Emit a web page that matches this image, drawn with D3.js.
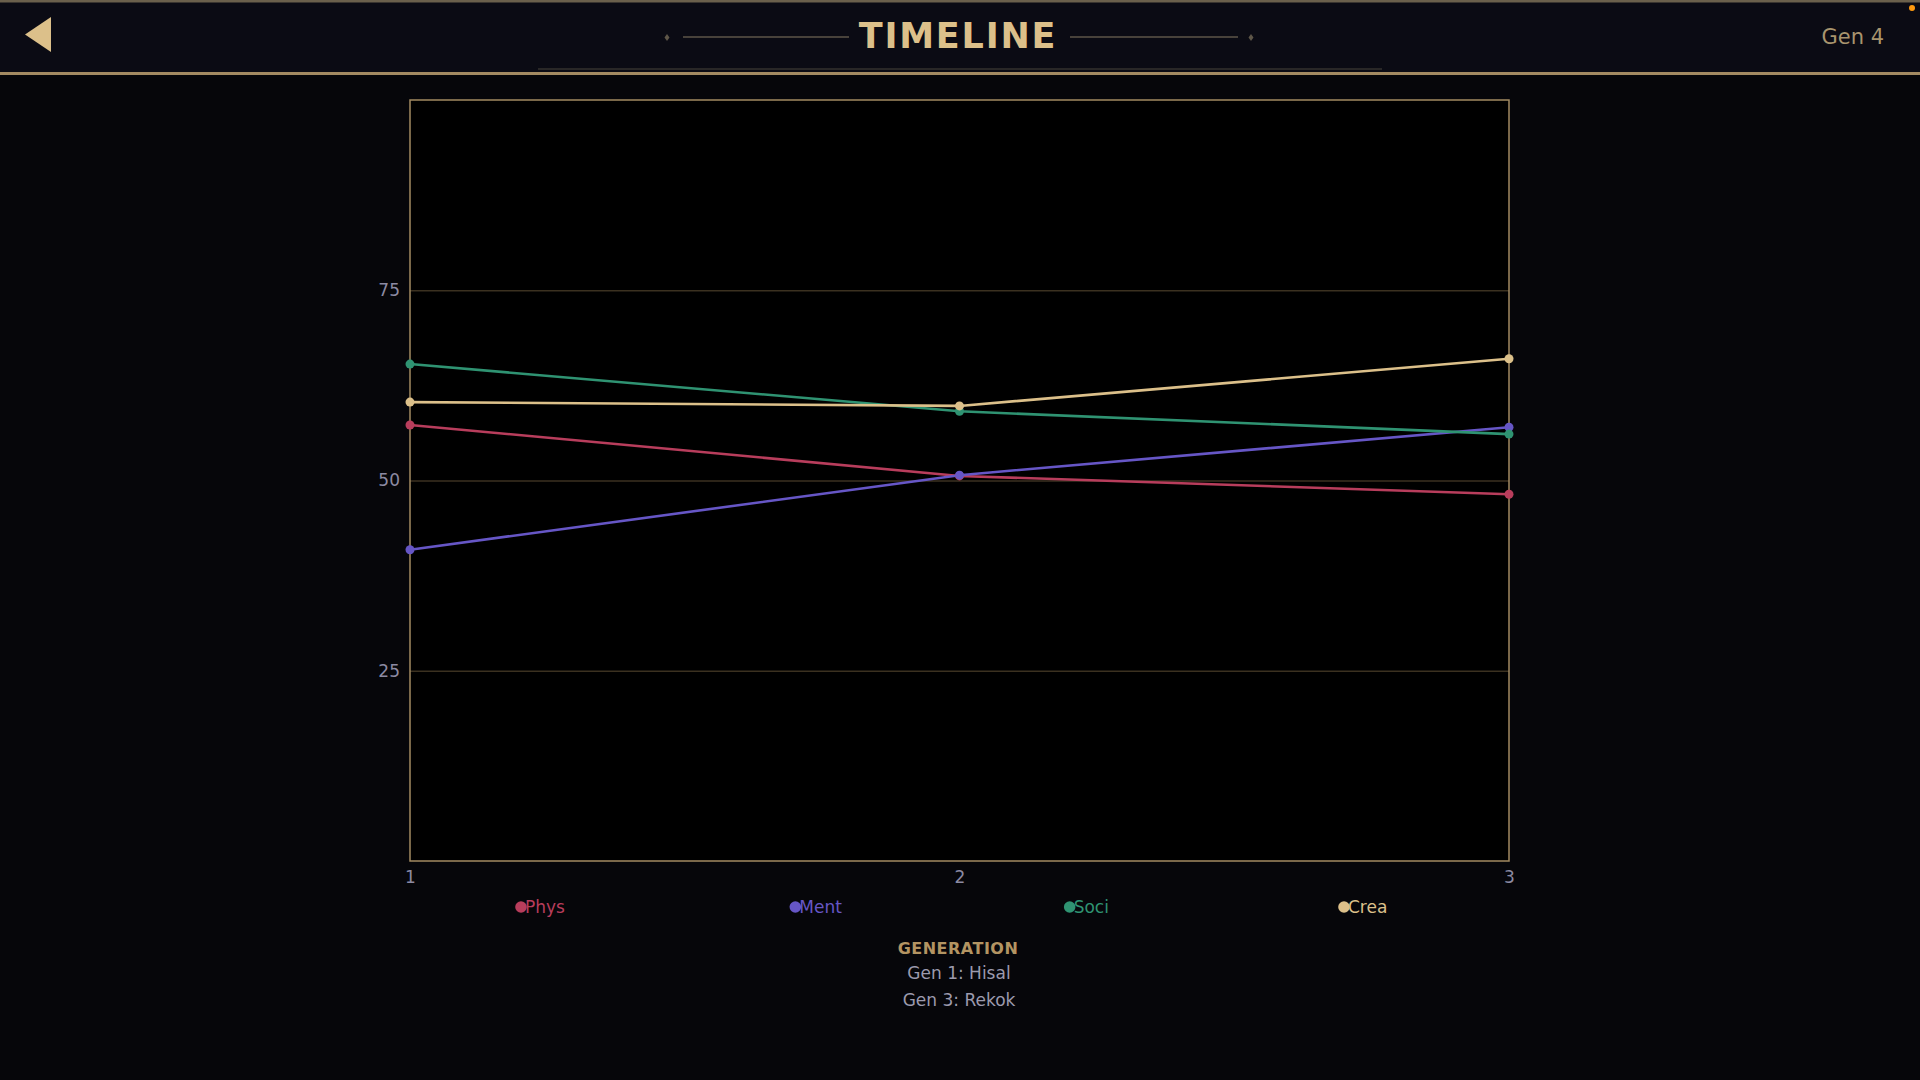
<!DOCTYPE html>
<html><head><meta charset="utf-8">
<script src="https://cdn.jsdelivr.net/npm/d3@7"></script>
<style>
html,body{margin:0;padding:0;background:#06060a;overflow:hidden;}
svg{display:block;}
text{font-family:"DejaVu Sans",Roboto,sans-serif;}
</style></head>
<body>
<svg id="chart" width="1920" height="1080"></svg>
<script>
const generations = [1, 2, 3];
const seriesNames = ["Phys", "Ment", "Soci", "Crea"];
const seriesColors = ["#b83d5c", "#6656c6", "#2f9372", "#dcc08a"];
const physValues = [57.3, 50.6, 48.2];
const mentValues = [40.9, 50.7, 57.0];
const sociValues = [65.3, 59.1, 56.1];
const creaValues = [60.3, 59.8, 66.0];
const yTicks = [25, 50, 75];
const xTicks = [1, 2, 3];
const notes = ["Gen 1: Hisal", "Gen 3: Rekok"];

const series = [physValues, mentValues, sociValues, creaValues].map((vals, i) => ({
  name: seriesNames[i], color: seriesColors[i],
  points: vals.map((v, j) => ({g: generations[j], v}))
}));

const svg = d3.select("#chart");
svg.append("rect").attr("width", 1920).attr("height", 1080).attr("fill", "#06060a");

// header
svg.append("rect").attr("x", 0).attr("y", 0).attr("width", 1920).attr("height", 73).attr("fill", "#0b0b14");
svg.append("rect").attr("x", 0).attr("y", 0).attr("width", 1920).attr("height", 2.5).attr("fill", "#6b604c");
svg.append("rect").attr("x", 0).attr("y", 72).attr("width", 1920).attr("height", 3).attr("fill", "#a38a62");
svg.append("line").attr("x1", 538).attr("x2", 1382).attr("y1", 69).attr("y2", 69).attr("stroke", "#34322e").attr("stroke-width", 1.5);
svg.append("path").attr("d", "M51,17 L51,52 L25,34.5 Z").attr("fill", "#dcc08a");
svg.append("text").attr("x", 958).attr("y", 36).attr("text-anchor", "middle").attr("dominant-baseline", "central")
  .attr("font-family", "Roboto, sans-serif").attr("font-size", 35).attr("font-weight", 600).attr("fill", "#dcc08a").attr("letter-spacing", 1.8).text("TIMELINE");
[[683, 849], [1070, 1238]].forEach(([a, b]) => {
  svg.append("line").attr("x1", a).attr("x2", b).attr("y1", 37).attr("y2", 37).attr("stroke", "#5e5648").attr("stroke-width", 1.5);
});
[667, 1251].forEach(x => {
  svg.append("path").attr("d", `M${x},34 L${x+2.5},37.5 L${x},41 L${x-2.5},37.5 Z`).attr("fill", "#5e5648");
});
svg.append("text").attr("x", 1884).attr("y", 37).attr("text-anchor", "end").attr("dominant-baseline", "central")
  .attr("font-size", 21).attr("fill", "#a8946e").text("Gen 4");
svg.append("circle").attr("cx", 1912).attr("cy", 8).attr("r", 3).attr("fill", "#ff9a10");

// plot
const m = {left: 410, right: 1509, top: 100, bottom: 861};
const x = d3.scaleLinear().domain([1, 3]).range([m.left, m.right]);
const y = d3.scaleLinear().domain([0, 100]).range([m.bottom, m.top]);

svg.append("rect").attr("x", m.left).attr("y", m.top).attr("width", m.right - m.left).attr("height", m.bottom - m.top).attr("fill", "#000");

const yAxis = svg.append("g").attr("transform", `translate(${m.left},0)`)
  .call(d3.axisLeft(y).tickValues(yTicks).tickSize(-(m.right - m.left)).tickPadding(10));
yAxis.select(".domain").remove();
yAxis.selectAll(".tick line").attr("stroke", "#3b3120").attr("stroke-width", 1.5);
yAxis.selectAll(".tick text").attr("fill", "#8c8aa2").attr("font-size", 17).attr("font-family", "DejaVu Sans, sans-serif");

const xAxis = svg.append("g").attr("transform", `translate(0,${m.bottom})`)
  .call(d3.axisBottom(x).tickValues(xTicks).tickSize(0).tickPadding(10).tickFormat(d3.format("d")));
xAxis.select(".domain").remove();
xAxis.selectAll(".tick text").attr("fill", "#8c8aa2").attr("font-size", 17).attr("font-family", "DejaVu Sans, sans-serif");

svg.append("rect").attr("x", m.left).attr("y", m.top).attr("width", m.right - m.left).attr("height", m.bottom - m.top)
  .attr("fill", "none").attr("stroke", "#a38a62").attr("stroke-width", 1.5);

const line = d3.line().x(d => x(d.g)).y(d => y(d.v));
series.forEach(s => {
  svg.append("path").datum(s.points).attr("d", line).attr("fill", "none").attr("stroke", s.color).attr("stroke-width", 2.6);
});
series.forEach(s => {
  svg.selectAll(null).data(s.points).enter().append("circle")
    .attr("cx", d => x(d.g)).attr("cy", d => y(d.v)).attr("r", 4.5).attr("fill", s.color);
});

// legend
const legendX = d3.scalePoint().domain(seriesNames).range([521, 1344]);
const lg = svg.append("g").selectAll("g").data(series).enter().append("g")
  .attr("transform", d => `translate(${legendX(d.name)},907)`);
lg.append("circle").attr("r", 5.8).attr("fill", d => d.color);
lg.append("text").attr("x", 4).attr("dominant-baseline", "central").attr("font-size", 17)
  .attr("fill", d => d.color).text(d => d.name);

// axis title and notes
svg.append("text").attr("x", 958).attr("y", 948).attr("text-anchor", "middle").attr("dominant-baseline", "central")
  .attr("font-size", 16).attr("font-weight", 600).attr("letter-spacing", 0.5).attr("fill", "#b39462").text("GENERATION");
svg.selectAll(".note").data(notes).enter().append("text").attr("class", "note")
  .attr("x", 959).attr("y", (d, i) => 973 + i * 26.5).attr("text-anchor", "middle").attr("dominant-baseline", "central")
  .attr("font-size", 17).attr("fill", "#9c9aae").text(d => d);
</script>
</body></html>
